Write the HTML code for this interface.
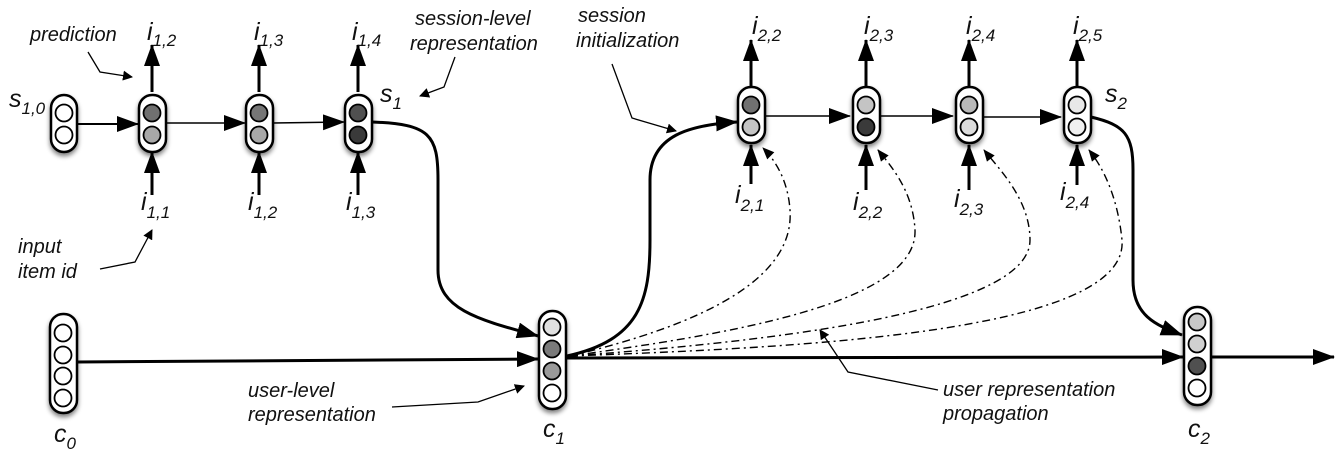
<!DOCTYPE html>
<html><head><meta charset="utf-8"><style>
html,body{margin:0;padding:0;background:#fff}
svg{display:block}
text{font-family:"Liberation Sans",sans-serif;font-style:italic;fill:#111}
.l{font-size:20px}
.m{font-size:25px}
.s{font-size:17px}
</style></head><body>
<svg width="1342" height="466" viewBox="0 0 1342 466" xmlns="http://www.w3.org/2000/svg">
<defs>
<marker id="a" markerWidth="10" markerHeight="10" refX="9" refY="5" orient="auto" markerUnits="userSpaceOnUse" viewBox="0 0 10 10">
<path d="M0,0 L10,5 L0,10z" fill="#000"/></marker>
<marker id="A" markerWidth="22" markerHeight="16" refX="21" refY="8" orient="auto" markerUnits="userSpaceOnUse" viewBox="0 0 22 16">
<path d="M0,0 L22,8 L0,16z" fill="#000"/></marker>
<marker id="d" markerWidth="12" markerHeight="10" refX="11" refY="5" orient="auto" markerUnits="userSpaceOnUse" viewBox="0 0 12 10">
<path d="M0,0 L12,5 L0,10z" fill="#000"/></marker>
<filter id="sh" x="-50%" y="-20%" width="200%" height="150%"><feGaussianBlur in="SourceAlpha" stdDeviation="2.5"/><feOffset dy="3"/><feComponentTransfer><feFuncA type="linear" slope="0.5"/></feComponentTransfer><feMerge><feMergeNode/><feMergeNode in="SourceGraphic"/></feMerge></filter>
</defs>

<g stroke="#000" fill="none">
<line x1="78" y1="124" x2="138" y2="124" stroke-width="2" marker-end="url(#A)"/>
<line x1="167" y1="123" x2="245" y2="123" stroke-width="1.6" marker-end="url(#A)"/>
<line x1="273" y1="123" x2="344" y2="122" stroke-width="1.6" marker-end="url(#A)"/>
<g stroke-width="3">
<line x1="152" y1="92" x2="152" y2="45" marker-end="url(#A)"/>
<line x1="259" y1="92" x2="259" y2="45" marker-end="url(#A)"/>
<line x1="358" y1="92" x2="358" y2="45" marker-end="url(#A)"/>
<line x1="152" y1="195" x2="152" y2="152" marker-end="url(#A)"/>
<line x1="259" y1="195" x2="259" y2="152" marker-end="url(#A)"/>
<line x1="358" y1="195" x2="358" y2="152" marker-end="url(#A)"/>
</g>
<line x1="765" y1="116" x2="850" y2="116" stroke-width="1.6" marker-end="url(#A)"/>
<line x1="880" y1="116" x2="953" y2="116" stroke-width="1.6" marker-end="url(#A)"/>
<line x1="983" y1="117" x2="1061" y2="117" stroke-width="1.6" marker-end="url(#A)"/>
<g stroke-width="3">
<line x1="751" y1="86" x2="751" y2="40" marker-end="url(#A)"/>
<line x1="866" y1="86" x2="866" y2="40" marker-end="url(#A)"/>
<line x1="969" y1="86" x2="969" y2="40" marker-end="url(#A)"/>
<line x1="1077" y1="86" x2="1077" y2="40" marker-end="url(#A)"/>
<line x1="751" y1="184" x2="751" y2="145" marker-end="url(#A)"/>
<line x1="866" y1="190" x2="866" y2="145" marker-end="url(#A)"/>
<line x1="969" y1="190" x2="969" y2="145" marker-end="url(#A)"/>
<line x1="1077" y1="185" x2="1077" y2="145" marker-end="url(#A)"/>
</g>
<line x1="77" y1="362" x2="538" y2="359" stroke-width="3" marker-end="url(#A)"/>
<line x1="567" y1="358" x2="1183" y2="357" stroke-width="3" marker-end="url(#A)"/>
<line x1="1210" y1="357" x2="1334" y2="357" stroke-width="3" marker-end="url(#A)"/>
<path d="M372,122 C430,124 438,135 438,180 L438,270 C438,310 480,320 538,336" stroke-width="3" marker-end="url(#A)"/>
<path d="M567,356 C640,340 650,300 650,240 L650,180 C650,135 690,125 737,122" stroke-width="3" marker-end="url(#A)"/>
<path d="M1091,117 C1125,125 1133,135 1133,170 L1133,280 C1133,315 1155,325 1182,335" stroke-width="3" marker-end="url(#A)"/>
<g stroke-width="1.4" stroke-dasharray="8,4,2,4">
<path d="M570,356 C700,325 795,280 790,210 C788,180 775,160 763,148" marker-end="url(#d)"/>
<path d="M570,356 C720,335 918,305 915,230 C913,190 890,165 878,150" marker-end="url(#d)"/>
<path d="M570,356 C750,343 1030,315 1030,240 C1030,200 1000,170 984,150" marker-end="url(#d)"/>
<path d="M570,356 C780,348 1130,335 1122,240 C1118,200 1105,170 1089,150" marker-end="url(#d)"/>
</g>
<g stroke-width="1.3">
<polyline points="88,52 100,72 132,77" marker-end="url(#a)"/>
<polyline points="455,57 444,87 420,96" marker-end="url(#a)"/>
<polyline points="612,64 632,118 676,131" marker-end="url(#a)"/>
<polyline points="100,269 135,262 152,230" marker-end="url(#a)"/>
<polyline points="392,407 478,402 524,386" marker-end="url(#a)"/>
<polyline points="938,390 848,372 820,330" marker-end="url(#a)"/>
</g>
</g>

<g stroke="#000" stroke-width="2.5">
<g filter="url(#sh)" fill="#fff">
<rect x="51" y="95" width="26" height="57" rx="13"/>
<rect x="139" y="95" width="27" height="57" rx="13"/>
<rect x="246" y="95" width="27" height="57" rx="13"/>
<rect x="345" y="95" width="27" height="57" rx="13"/>
<rect x="738" y="87" width="27" height="56" rx="13"/>
<rect x="853" y="87" width="27" height="56" rx="13"/>
<rect x="956" y="87" width="27" height="56" rx="13"/>
<rect x="1064" y="87" width="27" height="56" rx="13"/>
<rect x="50" y="314" width="27" height="99" rx="13"/>
<rect x="539" y="311" width="27" height="98" rx="13"/>
<rect x="1184" y="307" width="27" height="98" rx="13"/>
</g>
<g stroke-width="1.8">
<circle cx="64" cy="113" r="8.5" fill="#fff"/><circle cx="64" cy="135" r="8.5" fill="#fff"/>
<circle cx="152" cy="113" r="8.5" fill="#707070"/><circle cx="152" cy="135" r="8.5" fill="#a8a8a8"/>
<circle cx="259" cy="113" r="8.5" fill="#767676"/><circle cx="259" cy="135" r="8.5" fill="#a8a8a8"/>
<circle cx="358" cy="113" r="8.5" fill="#505050"/><circle cx="358" cy="135" r="8.5" fill="#3a3a3a"/>
<circle cx="751" cy="105" r="8.5" fill="#707070"/><circle cx="751" cy="127" r="8.5" fill="#c4c4c4"/>
<circle cx="866" cy="105" r="8.5" fill="#c4c4c4"/><circle cx="866" cy="127" r="8.5" fill="#3a3a3a"/>
<circle cx="969" cy="105" r="8.5" fill="#b8b8b8"/><circle cx="969" cy="127" r="8.5" fill="#dcdcdc"/>
<circle cx="1077" cy="105" r="8.5" fill="#e8e8e8"/><circle cx="1077" cy="127" r="8.5" fill="#f0f0f0"/>
<circle cx="63" cy="333" r="8.5" fill="#fff"/><circle cx="63" cy="355" r="8.5" fill="#fff"/><circle cx="63" cy="376" r="8.5" fill="#fff"/><circle cx="63" cy="398" r="8.5" fill="#fff"/>
<circle cx="552" cy="327" r="8.5" fill="#e0e0e0"/><circle cx="552" cy="349" r="8.5" fill="#7a7a7a"/><circle cx="552" cy="371" r="8.5" fill="#9a9a9a"/><circle cx="552" cy="393" r="8.5" fill="#fff"/>
<circle cx="1197" cy="322" r="8.5" fill="#c8c8c8"/><circle cx="1197" cy="344" r="8.5" fill="#d0d0d0"/><circle cx="1197" cy="366" r="8.5" fill="#505050"/><circle cx="1197" cy="388" r="8.5" fill="#fff"/>
</g>
</g>

<text class="l" x="30" y="41">prediction</text>
<text class="l" x="415" y="25">session-level</text>
<text class="l" x="410" y="50">representation</text>
<text class="l" x="578" y="22">session</text>
<text class="l" x="576" y="47">initialization</text>
<text class="l" x="18" y="253">input</text>
<text class="l" x="18" y="278">item id</text>
<text class="l" x="248" y="397">user-level</text>
<text class="l" x="248" y="421">representation</text>
<text class="l" x="943" y="396">user representation</text>
<text class="l" x="943" y="420">propagation</text>

<text class="m" x="9" y="107">s<tspan class="s" dy="7">1,0</tspan></text>
<text class="m" x="147" y="40">i<tspan class="s" dy="6">1,2</tspan></text>
<text class="m" x="254" y="40">i<tspan class="s" dy="6">1,3</tspan></text>
<text class="m" x="352" y="40">i<tspan class="s" dy="6">1,4</tspan></text>
<text class="m" x="380" y="102">s<tspan class="s" dy="7">1</tspan></text>
<text class="m" x="141" y="210">i<tspan class="s" dy="8">1,1</tspan></text>
<text class="m" x="248" y="210">i<tspan class="s" dy="8">1,2</tspan></text>
<text class="m" x="346" y="210">i<tspan class="s" dy="8">1,3</tspan></text>
<text class="m" x="752" y="34">i<tspan class="s" dy="7">2,2</tspan></text>
<text class="m" x="864" y="34">i<tspan class="s" dy="7">2,3</tspan></text>
<text class="m" x="966" y="34">i<tspan class="s" dy="7">2,4</tspan></text>
<text class="m" x="1073" y="34">i<tspan class="s" dy="7">2,5</tspan></text>
<text class="m" x="1105" y="102">s<tspan class="s" dy="7">2</tspan></text>
<text class="m" x="735" y="203">i<tspan class="s" dy="8">2,1</tspan></text>
<text class="m" x="853" y="210">i<tspan class="s" dy="8">2,2</tspan></text>
<text class="m" x="954" y="207">i<tspan class="s" dy="8">2,3</tspan></text>
<text class="m" x="1060" y="200">i<tspan class="s" dy="8">2,4</tspan></text>
<text class="m" x="54" y="442">c<tspan class="s" dy="7">0</tspan></text>
<text class="m" x="543" y="437">c<tspan class="s" dy="7">1</tspan></text>
<text class="m" x="1188" y="437">c<tspan class="s" dy="7">2</tspan></text>
</svg>
</body></html>
